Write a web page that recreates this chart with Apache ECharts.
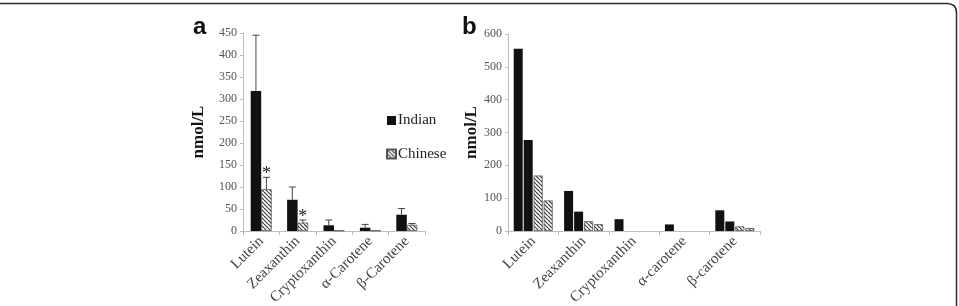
<!DOCTYPE html>
<html>
<head>
<meta charset="utf-8">
<script src="https://cdn.jsdelivr.net/npm/echarts@6/dist/echarts.min.js"></script>
<style>
  html, body { margin: 0; padding: 0; background: #fff; }
  #chart { width: 959px; height: 306px; }
</style>
</head>
<body>
<div id="chart"></div>
<script>
// panel a: mean +/- SD
const catA = ['Lutein', 'Zeaxanthin', 'Cryptoxanthin', 'α-Carotene', 'β-Carotene']
const indianA = [318, 71, 13, 7.5, 37]
const indianErrA = [127, 29, 12, 7.5, 14]
const chineseA = [95, 19, 1, 1, 14]
const chineseErrA = [27, 6, 0, 0, 3]
const sigA = [1, 1, 0, 0, 0]

// panel b: two studies per population (null = not reported)
const catB = ['Lutein', 'Zeaxanthin', 'Cryptoxanthin', 'α-carotene', 'β-carotene']
const indianB1 = [555, 122, 36, 20, 63]
const indianB2 = [277, 59, null, null, 29]
const chineseB1 = [169, 30, null, null, 14]
const chineseB2 = [93, 21, null, null, 9]

const serif = 'Liberation Serif'
const barWA = 10.5

// hatch pattern for the Chinese bars
function hatch() {
  const s = 4
  const c = document.createElement('canvas')
  c.width = s
  c.height = s
  const ctx = c.getContext('2d')
  ctx.fillStyle = '#fff'
  ctx.fillRect(0, 0, s, s)
  ctx.strokeStyle = '#3a3a3a'
  ctx.lineWidth = 1.2
  for (let k = -1; k <= 1; k++) {
    ctx.beginPath()
    ctx.moveTo(k * s, 0)
    ctx.lineTo(k * s + s, s)
    ctx.stroke()
  }
  return { image: c, repeat: 'repeat' }
}
const hatchFill = hatch()

function yAxis(idx, max, interval, gap) {
  return {
    type: 'value',
    gridIndex: idx,
    min: 0,
    max: max,
    interval: interval,
    name: 'nmol/L',
    nameLocation: 'middle',
    nameGap: gap,
    nameRotate: 90,
    nameTextStyle: { fontFamily: serif, fontWeight: 'bold', fontSize: 17, color: '#111' },
    axisLine: { show: true, lineStyle: { color: '#bdbdbd' } },
    axisTick: { show: true, length: 3, lineStyle: { color: '#bdbdbd' } },
    axisLabel: { fontFamily: serif, fontSize: 12, color: '#555', margin: 6 },
    splitLine: { show: false }
  }
}

function xAxis(idx, data) {
  return {
    type: 'category',
    gridIndex: idx,
    data: data,
    axisLine: { lineStyle: { color: '#bdbdbd' } },
    axisTick: { show: true, length: 4, lineStyle: { color: '#bdbdbd' } },
    axisLabel: { rotate: 45, fontFamily: serif, fontSize: 15, color: '#444', margin: 8, interval: 0 }
  }
}

// error bar (upward only) drawn over a bar shifted by off px
function errRender(vals, errs, off, sig) {
  return function(params, api) {
    const i = api.value(0)
    const top = api.coord([i, vals[i] + errs[i]])
    const base = api.coord([i, vals[i]])
    const x = base[0] + off
    const children = []
    if (errs[i] > 0) {
      children.push({
        type: 'line',
        shape: { x1: x, y1: base[1], x2: x, y2: top[1] },
        style: { stroke: '#444', lineWidth: 1 }
      })
      children.push({
        type: 'line',
        shape: { x1: x - 3.5, y1: top[1], x2: x + 3.5, y2: top[1] },
        style: { stroke: '#444', lineWidth: 1 }
      })
    }
    if (sig && sig[i]) {
      children.push({
        type: 'text',
        style: { x: x, y: top[1] - 3, text: '*', fontFamily: serif, fontSize: 18, fill: '#222', align: 'center', verticalAlign: 'middle' }
      })
    }
    return { type: 'group', children: children }
  }
}

const chart = echarts.init(document.getElementById('chart'), null, { renderer: 'canvas' })
chart.setOption({
  animation: false,
  backgroundColor: '#fff',
  grid: [
    { left: 243, top: 33, width: 182, height: 198, outerBoundsMode: 'none' },
    { left: 508, top: 34, width: 252, height: 197, outerBoundsMode: 'none' }
  ],
  xAxis: [xAxis(0, catA), xAxis(1, catB)],
  yAxis: [yAxis(0, 450, 50, 36), yAxis(1, 600, 100, 26)],
  legend: {
    data: ['Indian', 'Chinese'],
    orient: 'vertical',
    left: 386,
    top: 113,
    padding: 0,
    itemWidth: 9,
    itemHeight: 9,
    itemGap: 18.5,
    icon: 'rect',
    textStyle: { fontFamily: serif, fontSize: 15, color: '#222', padding: [0, 0, 0, -3] }
  },
  graphic: [
    {
      type: 'line', silent: true,
      shape: { x1: 0, y1: 3.5, x2: 947, y2: 3.5 },
      style: { stroke: '#2a2a2a', lineWidth: 1.5 }
    },
    {
      type: 'bezierCurve', silent: true,
      shape: { x1: 947, y1: 3.5, x2: 956.5, y2: 13, cpx1: 956.5, cpy1: 3.5 },
      style: { fill: null, stroke: '#2a2a2a', lineWidth: 1.5 }
    },
    {
      type: 'line', silent: true,
      shape: { x1: 956.5, y1: 13, x2: 956.5, y2: 306 },
      style: { stroke: '#2a2a2a', lineWidth: 1.5 }
    },
    {
      type: 'text', left: 193, top: 15,
      style: { text: 'a', fontFamily: 'Liberation Sans', fontWeight: 'bold', fontSize: 24, fill: '#111' }
    },
    {
      type: 'text', left: 462, top: 15,
      style: { text: 'b', fontFamily: 'Liberation Sans', fontWeight: 'bold', fontSize: 24, fill: '#111' }
    }
  ],
  series: [
    {
      name: 'Indian', type: 'bar', xAxisIndex: 0, yAxisIndex: 0,
      barWidth: barWA, barGap: '0%', data: indianA,
      itemStyle: { color: '#111' }
    },
    {
      name: 'Chinese', type: 'bar', xAxisIndex: 0, yAxisIndex: 0,
      barWidth: barWA, barGap: '0%', data: chineseA,
      itemStyle: { color: hatchFill, borderColor: '#555', borderWidth: 0.8 }
    },
    {
      type: 'custom', xAxisIndex: 0, yAxisIndex: 0, silent: true, z: 5,
      data: catA.map((c, i) => [i, indianA[i]]),
      renderItem: errRender(indianA, indianErrA, -barWA / 2)
    },
    {
      type: 'custom', xAxisIndex: 0, yAxisIndex: 0, silent: true, z: 5,
      data: catA.map((c, i) => [i, chineseA[i]]),
      renderItem: errRender(chineseA, chineseErrA, barWA / 2, sigA)
    },
    {
      name: 'Indian 1', type: 'bar', xAxisIndex: 1, yAxisIndex: 1,
      barWidth: 9, barGap: '11%', data: indianB1,
      itemStyle: { color: '#111' }
    },
    {
      name: 'Indian 2', type: 'bar', xAxisIndex: 1, yAxisIndex: 1,
      barWidth: 9, barGap: '11%', data: indianB2,
      itemStyle: { color: '#111' }
    },
    {
      name: 'Chinese 1', type: 'bar', xAxisIndex: 1, yAxisIndex: 1,
      barWidth: 9, barGap: '11%', data: chineseB1,
      itemStyle: { color: hatchFill, borderColor: '#555', borderWidth: 0.8 }
    },
    {
      name: 'Chinese 2', type: 'bar', xAxisIndex: 1, yAxisIndex: 1,
      barWidth: 9, barGap: '11%', data: chineseB2,
      itemStyle: { color: hatchFill, borderColor: '#555', borderWidth: 0.8 }
    }
  ]
})
</script>
</body>
</html>
